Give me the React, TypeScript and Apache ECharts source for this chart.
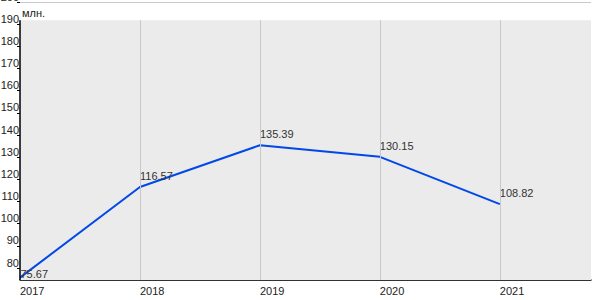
import React, { useEffect, useRef } from "react";
import * as echarts from "echarts";

const years = [2017, 2018, 2019, 2020, 2021];
const values = [75.67, 116.57, 135.39, 130.15, 108.82];
const unitLabel = "млн.";
const yMin = 74.6;
const yMax = 200;
const plotTop = 191.8;
const xMin = 2017;
const xMax = 2021.76;

export default function App() {
  const ref = useRef<HTMLDivElement>(null);
  useEffect(() => {
    if (!ref.current) return;
    const chart = echarts.init(ref.current, null, { renderer: "svg" });
    const font = "'Liberation Sans', Arial, sans-serif";
    const lineData = years.map((y, i) => ({
      value: [y, values[i]],
      label: i === 0 ? { position: [1, -9] } : undefined,
    }));
    chart.setOption({
      animation: false,
      backgroundColor: "#ffffff",
      textStyle: { fontFamily: font },
      grid: {
        left: 20,
        right: 9,
        top: 2,
        bottom: 20,
        containLabel: false,
        outerBoundsMode: "none",
      },
      graphic: [
        {
          type: "text",
          left: 22,
          top: 7,
          style: {
            text: unitLabel,
            font: "11px 'Liberation Sans', Arial, sans-serif",
            fill: "#222",
          },
        },
      ],
      xAxis: {
        type: "value",
        min: xMin,
        max: xMax,
        interval: 1,
        axisLine: { show: true, onZero: false, lineStyle: { color: "#000", width: 1.5 } },
        axisTick: { show: false },
        splitLine: { show: false },
        axisLabel: {
          showMaxLabel: false,
          hideOverlap: false,
          align: "left",
          margin: 5,
          fontSize: 11,
          color: "#222",
          fontFamily: font,
          formatter: (v: number) => String(v),
        },
      },
      yAxis: {
        type: "value",
        min: yMin,
        max: yMax,
        splitNumber: 12,
        axisLine: { show: false },
        axisTick: { show: true, length: 3, lineStyle: { color: "#000" } },
        splitLine: { show: true, lineStyle: { color: "#c8c8c8", width: 1 } },
        axisLabel: {
          showMinLabel: false,
          hideOverlap: false,
          margin: 1,
          verticalAlign: "bottom",
          fontSize: 11,
          color: "#222",
          fontFamily: font,
        },
      },
      series: [
        {
          type: "line",
          z: -2,
          data: lineData.map((d) => d.value),
          symbol: "none",
          lineStyle: { opacity: 0 },
          silent: true,
          markArea: {
            silent: true,
            itemStyle: { color: "#ebebeb" },
            data: [[{ coord: [xMin, yMin] }, { coord: [xMax, plotTop] }]],
          },
        },
        {
          type: "line",
          z: -1,
          data: lineData.map((d) => d.value),
          symbol: "none",
          lineStyle: { opacity: 0 },
          silent: true,
          markLine: {
            silent: true,
            symbol: "none",
            label: { show: false },
            lineStyle: { color: "#c8c8c8", width: 1, type: "solid" },
            data: years.slice(1).map((y) => [
              { coord: [y, yMin] },
              { coord: [y, plotTop] },
            ]),
          },
        },
        {
          type: "line",
          z: 3,
          data: lineData,
          symbol: "circle",
          symbolSize: 1,
          showSymbol: true,
          itemStyle: { color: "rgba(0,0,0,0)" },
          lineStyle: { color: "#0048e8", width: 2 },
          labelLayout: { hideOverlap: false },
          label: {
            show: true,
            position: "top",
            align: "left",
            distance: 5,
            fontSize: 11,
            color: "#333",
            fontFamily: font,
            formatter: (p: any) => String(p.value[1]),
          },
          markLine: {
            silent: true,
            symbol: "none",
            label: { show: false },
            lineStyle: { color: "#000", width: 1.5, type: "solid" },
            data: [[{ coord: [xMin, yMin] }, { coord: [xMin, plotTop] }]],
          },
        },
      ],
    });
    return () => chart.dispose();
  }, []);
  return (
    <div
      ref={ref}
      style={{ position: "fixed", left: 0, top: 0, width: 600, height: 300 }}
    />
  );
}
